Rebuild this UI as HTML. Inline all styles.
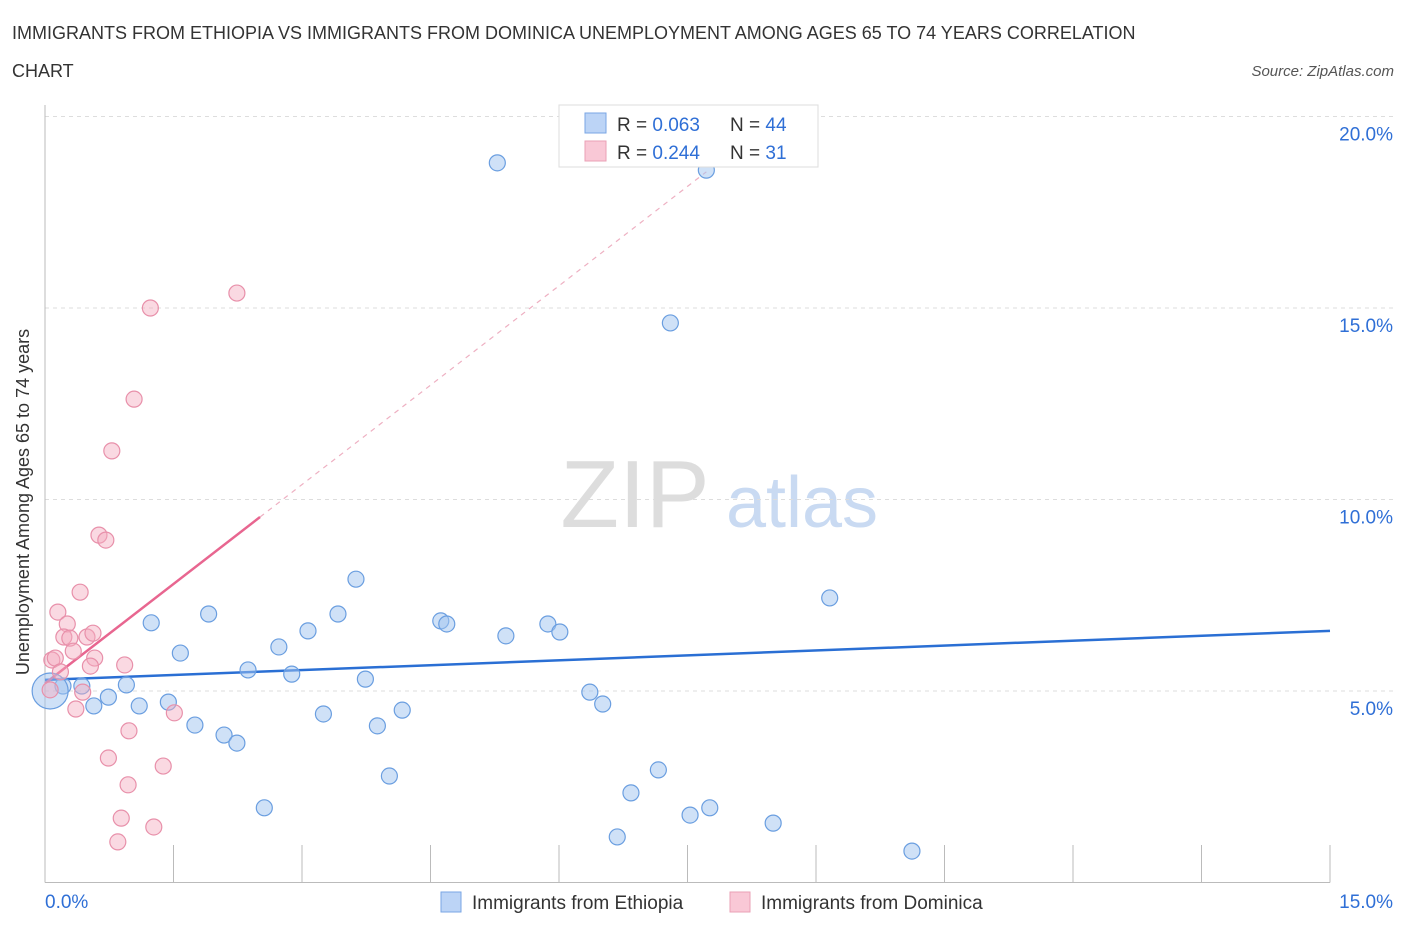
<!DOCTYPE html>
<html><head><meta charset="utf-8"><style>
body{margin:0;background:#fff;font-family:"Liberation Sans",sans-serif;}
svg text{font-family:"Liberation Sans",sans-serif;}
</style></head><body>
<svg id="chart" width="1406" height="930" xmlns="http://www.w3.org/2000/svg">
<text x="12" y="39" font-size="18" fill="#333">IMMIGRANTS FROM ETHIOPIA VS IMMIGRANTS FROM DOMINICA UNEMPLOYMENT AMONG AGES 65 TO 74 YEARS CORRELATION</text>
<text x="12" y="77" font-size="18" fill="#333">CHART</text>
<text x="1394" y="76" font-size="15" fill="#555" font-style="italic" text-anchor="end">Source: ZipAtlas.com</text>
<g>
<text x="635" y="527" font-size="96" fill="#ddd" font-family="Liberation Serif" text-anchor="middle">ZIP</text>
<text x="802" y="527" font-size="72" fill="#c9daf2" text-anchor="middle">atlas</text>
</g>
<g id="grid"></g><g id="axes"></g><g id="trends"></g><g id="points"></g>
<text x="20" y="493" font-size="18" fill="#333" text-anchor="middle" transform="rotate(-90 29 493)">Unemployment Among Ages 65 to 74 years</text>
<g>
<rect x="559" y="105" width="259" height="62" fill="#fff" stroke="#ddd"/>
<rect x="585" y="113" width="21" height="20" fill="#bcd4f6" stroke="#7aa6e4"/>
<rect x="585" y="141" width="21" height="20" fill="#f9c8d6" stroke="#eaa0b6"/>
<text x="617" y="131" font-size="19" fill="#333">R = <tspan fill="#2f6fd6">0.063</tspan></text>
<text x="730" y="131" font-size="19" fill="#333">N = <tspan fill="#2f6fd6">44</tspan></text>
<text x="617" y="159" font-size="19" fill="#333">R = <tspan fill="#2f6fd6">0.244</tspan></text>
<text x="730" y="159" font-size="19" fill="#333">N = <tspan fill="#2f6fd6"> 31</tspan></text>
</g>
<g>
<rect x="441" y="892" width="20" height="20" fill="#bcd4f6" stroke="#7aa6e4"/>
<text x="472" y="909" font-size="19" fill="#333">Immigrants from Ethiopia</text>
<rect x="730" y="892" width="20" height="20" fill="#f9c8d6" stroke="#eaa0b6"/>
<text x="761" y="909" font-size="19" fill="#333">Immigrants from Dominica</text>
</g>
</svg>
<script>
const xTicks=[0,1.5,3,4.5,6,7.5,9,10.5,12,13.5,15];
const yTicks=[5,10,15,20];
const yTickLabels=["5.0%","10.0%","15.0%","20.0%"];
const ethX=[5.28,7.72,7.30,1.24,1.91,1.58,2.73,3.07,3.42,3.63,4.62,4.69,5.38,5.87,6.01,9.16,2.37,2.88,3.74,0.95,0.74,0.43,0.21,0.57,1.10,1.44,1.75,2.09,2.24,3.25,3.88,4.17,6.36,6.51,4.02,7.16,6.84,2.56,7.53,7.76,8.50,6.68,10.12,0.06];
const ethY=[18.79,18.60,14.61,6.78,7.01,5.99,6.15,6.57,7.01,7.92,6.83,6.75,6.44,6.75,6.54,7.43,5.55,5.44,5.31,5.16,4.84,5.13,5.13,4.61,4.61,4.71,4.11,3.85,3.64,4.40,4.09,4.50,4.97,4.66,2.78,2.94,2.34,1.95,1.76,1.95,1.55,1.19,0.82,5.0];
const domX=[1.23,2.24,1.04,0.78,0.63,0.71,0.41,0.15,0.26,0.22,0.29,0.49,0.56,0.33,0.58,0.93,0.53,0.08,0.12,0.18,0.06,0.44,0.36,1.51,0.98,0.74,1.38,0.97,0.89,1.27,0.85];
const domY=[15.00,15.39,12.62,11.27,9.07,8.94,7.58,7.06,6.75,6.41,6.38,6.41,6.51,6.04,5.86,5.68,5.65,5.81,5.86,5.50,5.03,4.97,4.53,4.43,3.96,3.25,3.04,2.55,1.68,1.45,1.06];
const ethTrend=[5.29,6.57]; // y at x=0 and x=15
const domTrend=[5.2,1.73]; // intercept, slope
const NS="http://www.w3.org/2000/svg";
const X=v=>45+v/15*1285, Y=v=>882.5-v/5*191.5;
function mk(tag,attrs,parent){const e=document.createElementNS(NS,tag);for(const k in attrs)e.setAttribute(k,attrs[k]);document.getElementById(parent).appendChild(e);return e;}
yTicks.forEach((t,i)=>{
 const g=mk('line',{x1:45,x2:1394,y1:Y(t),y2:Y(t),stroke:'#ddd','stroke-dasharray':'4 4'},'grid');
 
 
 const l=mk('text',{x:1393,y:Y(t)+24,'font-size':19,fill:'#2f6fd6','text-anchor':'end'},'grid');
 l.textContent=yTickLabels[i];
 
 
});
const ax=mk('line',{x1:45,x2:1330,y1:882.5,y2:882.5,stroke:'#bbb'},'axes');


const ay=mk('line',{x1:45,x2:45,y1:105,y2:882.5,stroke:'#bbb'},'axes');


xTicks.forEach(t=>{
 const k=mk('line',{x1:X(t),x2:X(t),y1:845,y2:882.5,stroke:'#bbb'},'axes');
 
 
});
const xl0=mk('text',{x:45,y:908,'font-size':19,fill:'#2f6fd6'},'axes');xl0.textContent='0.0%';


const xl1=mk('text',{x:1393,y:908,'font-size':19,fill:'#2f6fd6','text-anchor':'end'},'axes');xl1.textContent='15.0%';


ethX.forEach((x,i)=>{
 const big=i===ethX.length-1;
 const c=mk('circle',{cx:X(x),cy:Y(ethY[i]),r:big?18:8,fill:'rgba(160,196,240,0.5)',stroke:'#6a9ee0','stroke-width':1.2},'points');
 
 
});
domX.forEach((x,i)=>{
 const c=mk('circle',{cx:X(x),cy:Y(domY[i]),r:8,fill:'rgba(245,170,190,0.45)',stroke:'#e890aa','stroke-width':1.2},'points');
 
 
});
const bt=mk('line',{x1:X(0),y1:Y(ethTrend[0]),x2:X(15),y2:Y(ethTrend[1]),stroke:'#2a6fd4','stroke-width':2.5},'trends');


const pd=mk('line',{x1:X(2.51),y1:Y(domTrend[0]+domTrend[1]*2.51),x2:X(7.72),y2:Y(domTrend[0]+domTrend[1]*7.72),stroke:'#eeb0c2','stroke-width':1.2,'stroke-dasharray':'5 5'},'trends');


const pt=mk('line',{x1:X(0),y1:Y(domTrend[0]),x2:X(2.51),y2:Y(domTrend[0]+domTrend[1]*2.51),stroke:'#e86690','stroke-width':2.5},'trends');


</script>
</body></html>
